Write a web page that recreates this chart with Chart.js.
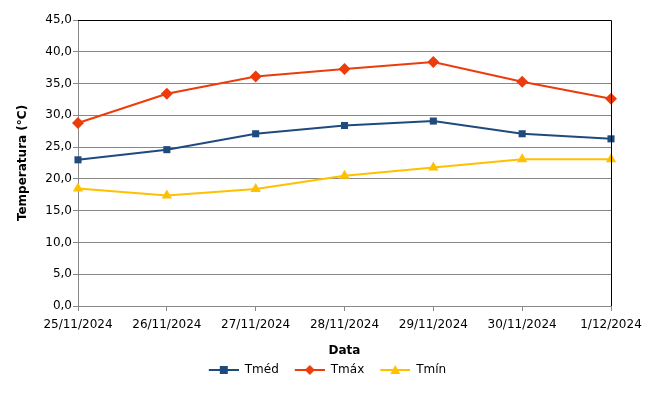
<!DOCTYPE html>
<html>
<head>
<meta charset="utf-8">
<script src="https://cdn.jsdelivr.net/npm/chart.js@4"></script>
<style>
  html, body { margin: 0; padding: 0; background: #fff; }
  #box { width: 670px; height: 407px; }
</style>
</head>
<body>
<div id="box"><canvas id="tempChart"></canvas></div>
<script>
const dates = ["25/11/2024", "26/11/2024", "27/11/2024", "28/11/2024", "29/11/2024", "30/11/2024", "1/12/2024"];
const tMed = [23.0, 24.6, 27.1, 28.4, 29.1, 27.1, 26.3];
const tMax = [28.8, 33.4, 36.1, 37.3, 38.4, 35.3, 32.6];
const tMin = [18.5, 17.4, 18.4, 20.5, 21.8, 23.1, 23.1];

const FONT = "'DejaVu Sans', Verdana, sans-serif";
const GRID = "#888888";

// little line + marker picture for the legend (blank space on the left = gap between items)
function legendIcon(color, style) {
    let c = document.createElement("canvas");
    c.width = 40; c.height = 12;
    let g = c.getContext("2d");
    g.strokeStyle = color;
    g.fillStyle = color;
    g.lineWidth = 2;
    g.beginPath(); g.moveTo(10, 6); g.lineTo(40, 6); g.stroke();
    g.beginPath();
    if (style === "rect") {
        g.rect(21, 2, 8, 8);
    } else if (style === "rectRot") {
        g.moveTo(25, 1); g.lineTo(30, 6); g.lineTo(25, 11); g.lineTo(20, 6);
    } else {
        g.moveTo(25, 1); g.lineTo(30, 10); g.lineTo(20, 10);
    }
    g.closePath(); g.fill();
    return c;
}

const frame = {
    id: "frame",
    afterLayout(chart) {
        // the legend sits a bit right of the page centre in the original
        chart.legend.left += 17;
        chart.legend.right += 17;
    },
    afterDatasetsDraw(chart) {
        let a = chart.chartArea, ctx = chart.ctx;
        ctx.save();
        ctx.strokeStyle = "#000";
        ctx.lineWidth = 1;
        ctx.beginPath();
        ctx.moveTo(a.left, Math.round(a.top) + 0.5);
        ctx.lineTo(Math.round(a.right) + 0.5, Math.round(a.top) + 0.5);
        ctx.lineTo(Math.round(a.right) + 0.5, a.bottom);
        ctx.stroke();
        ctx.restore();
    }
};

Chart.defaults.font.family = FONT;
Chart.defaults.font.size = 12;
Chart.defaults.color = "#000";

function series(label, data, color, style, radius) {
    return {
        label: label,
        data: data,
        borderColor: color,
        backgroundColor: color,
        borderWidth: 2,
        pointStyle: style,
        pointRadius: radius,
        pointHoverRadius: radius,
        pointBorderWidth: 0,
        tension: 0,
        icon: legendIcon(color, style)
    };
}

new Chart(document.getElementById("tempChart"), {
    type: "line",
    plugins: [frame],
    data: {
        labels: dates,
        datasets: [
            series("Tméd", tMed, "#1f4a7e", "rect", 5),
            series("Tmáx", tMax, "#ec3c0c", "rectRot", 6),
            series("Tmín", tMin, "#ffc000", "triangle", 6)
        ]
    },
    options: {
        responsive: true,
        maintainAspectRatio: false,
        animation: false,
        layout: { padding: { left: 0, right: 59, top: 20, bottom: 21 } },
        scales: {
            x: {
                offset: false,
                border: { color: GRID, width: 1 },
                grid: { drawOnChartArea: false, drawTicks: true, tickLength: 5, color: GRID },
                ticks: { maxRotation: 0, autoSkip: false, padding: 7 },
                title: { display: true, text: "Data", font: { weight: "bold" }, padding: { top: 8, bottom: 0 } },
                afterFit: (scale) => { scale.height = 52; }
            },
            y: {
                min: 0,
                max: 45,
                border: { color: GRID, width: 1 },
                grid: { color: GRID, tickLength: 5 },
                ticks: {
                    stepSize: 5,
                    padding: 1,
                    callback: (v) => v.toFixed(1).replace(".", ",")
                },
                title: { display: true, text: "Temperatura (°C)", font: { weight: "bold" }, padding: { top: 16, bottom: 0 } },
                afterFit: (scale) => { scale.width = 78; }
            }
        },
        plugins: {
            tooltip: { enabled: false },
            legend: {
                position: "bottom",
                labels: {
                    usePointStyle: true,
                    pointStyleWidth: 40,
                    padding: 6,
                    generateLabels: (chart) => chart.data.datasets.map((ds, i) => ({
                        text: ds.label,
                        pointStyle: ds.icon,
                        fillStyle: ds.borderColor,
                        strokeStyle: ds.borderColor,
                        lineWidth: 0,
                        fontColor: "#000",
                        datasetIndex: i
                    }))
                }
            }
        }
    }
});
</script>
</body>
</html>
